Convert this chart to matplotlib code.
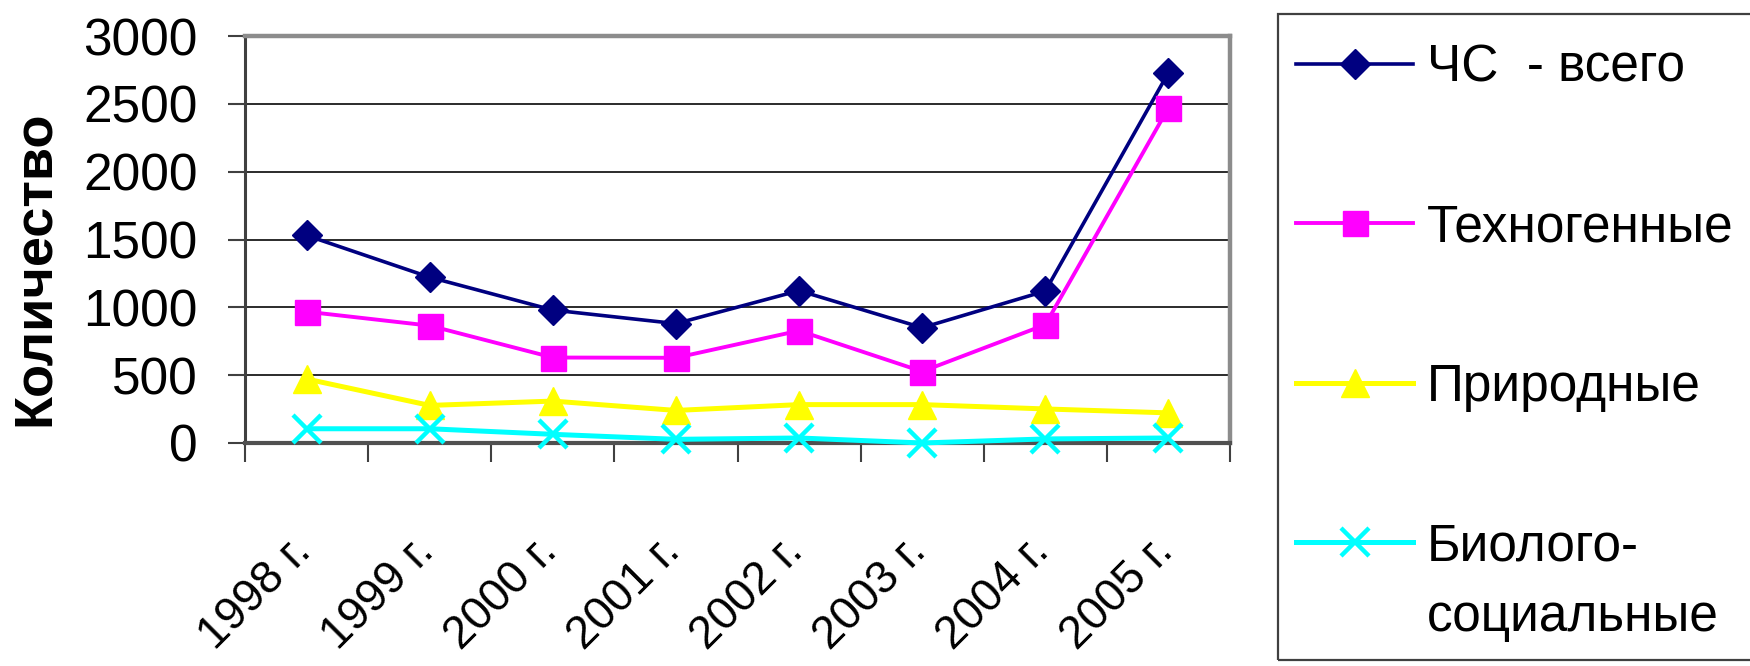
import matplotlib
matplotlib.use('Agg')
import matplotlib.pyplot as plt
from matplotlib.patches import Rectangle
from matplotlib.transforms import ScaledTranslation

plt.rcParams['font.family'] = ['Liberation Sans', 'DejaVu Sans']

years = ['1998 г.', '1999 г.', '2000 г.', '2001 г.', '2002 г.', '2003 г.', '2004 г.', '2005 г.']
total = [1530, 1222, 980, 880, 1123, 850, 1120, 2730]
techno = [968, 865, 630, 628, 828, 527, 872, 2470]
natural = [472, 277, 309, 240, 283, 283, 251, 222]
bio = [105, 105, 64, 27, 37, 0, 30, 37]
names = ['ЧС  - всего', 'Техногенные', 'Природные', 'Биолого-']
bio_second_line = 'социальные'
yticks = [0, 500, 1000, 1500, 2000, 2500, 3000]

W, H = 1750, 666
fig = plt.figure(figsize=(W / 100, H / 100), dpi=100, facecolor='white')
ax = fig.add_axes([245 / W, 1 - 443 / H, 985 / W, 407 / H])

x = list(range(len(years)))
styles = [
    dict(color='#000080', marker='D', ms=15, lw=2.6),
    dict(color='#ff00ff', marker='s', ms=18, lw=2.8),
    dict(color='#ffff00', marker='^', ms=20, lw=3.6),
    dict(color='#00ffff', marker='x', ms=20, lw=3.6, mew=3.2),
]
lines = []
for vals, name, st in zip([total, techno, natural, bio], names, styles):
    ln, = ax.plot(x, vals, label=name, clip_on=False, zorder=3, **st)
    lines.append(ln)

ax.set_xlim(-0.5, len(years) - 0.5)
ax.set_ylim(0, 3000)
ax.set_yticks(yticks)
ax.grid(axis='y', color='#1a1a1a', lw=1.3, zorder=0)
ax.set_axisbelow(True)

for s in ['top', 'right']:
    ax.spines[s].set_color('#8c8c8c')
    ax.spines[s].set_linewidth(3.2)
ax.spines['left'].set_color('#404040')
ax.spines['left'].set_linewidth(2.2)
ax.spines['bottom'].set_color('#505050')
ax.spines['bottom'].set_linewidth(3)

ax.tick_params(axis='y', labelsize=37, length=12, width=1.5, color='#404040', pad=22)
# tick marks on category boundaries, labels on category centres
ax.set_xticks([i - 0.5 for i in range(len(years) + 1)])
ax.set_xticklabels([])
ax.tick_params(axis='x', which='major', length=14, width=1.5, color='#404040')
ax.set_xticks(x, years, minor=True)
ax.tick_params(axis='x', which='minor', length=0, pad=62, labelsize=33)
shift = ScaledTranslation(-0.18, 0, fig.dpi_scale_trans)
for lab in ax.get_xticklabels(minor=True):
    lab.set_rotation(45)
    lab.set_ha('right')
    lab.set_va('top')
    lab.set_rotation_mode('anchor')
    lab.set_transform(lab.get_transform() + shift)

fig.text(35 / W, 1 - 268 / H, 'Количество', rotation=90, ha='center', va='center',
         fontsize=39, fontweight='bold')

# legend frame drawn separately so it can reach the figure edge
fig.patches.append(Rectangle((1278 / W, 1 - 660 / H), 520 / W, 646 / H,
                             transform=fig.transFigure, fill=False,
                             edgecolor='#404040', linewidth=1.6))
leg = fig.legend(handles=lines, loc='upper left',
                 bbox_to_anchor=(1278 / W, 1 - 26 / H),
                 fontsize=37, frameon=False,
                 borderaxespad=0, borderpad=0.35, labelspacing=2.15,
                 handlelength=2.28, handletextpad=0.27)

fig.canvas.draw()
r = fig.canvas.get_renderer()
bb = leg.get_texts()[3].get_window_extent(r)
fig.text(bb.x0 / W, (bb.y1 - 71) / H, bio_second_line, ha='left', va='top', fontsize=37)

fig.savefig('out.png', dpi=100)
